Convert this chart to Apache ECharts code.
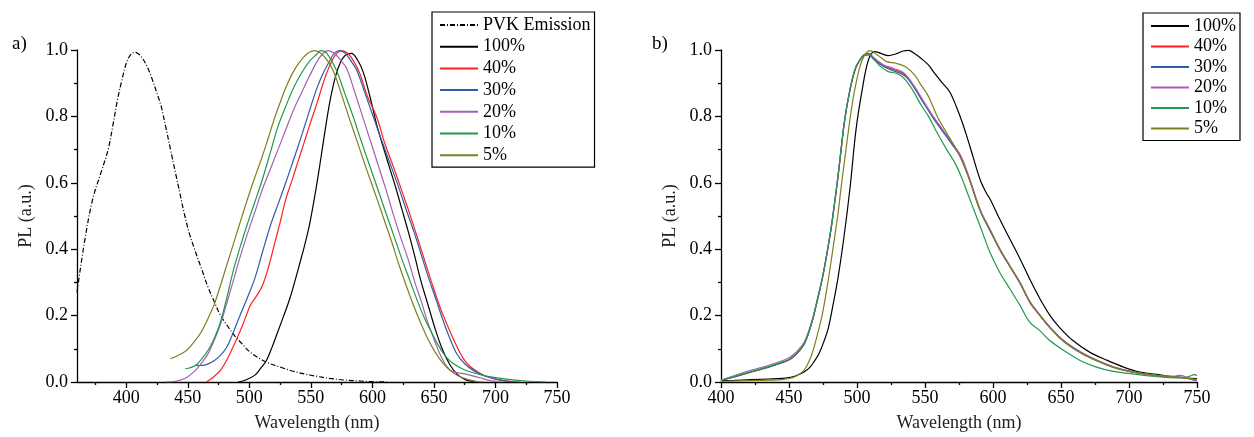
<!DOCTYPE html>
<html>
<head>
<meta charset="utf-8">
<script src="https://cdn.jsdelivr.net/npm/echarts@6/dist/echarts.min.js"></script>
<style>
  html, body { margin: 0; padding: 0; background: #fff; }
  #chart { width: 1254px; height: 437px; }
</style>
</head>
<body>
<div id="chart"></div>
<script>
// legend names + colours (same order in both panels)
var labels = ["100%", "40%", "30%", "20%", "10%", "5%"];
var colors = ["#000000", "#ff2020", "#2f5cab", "#a45fb8", "#1f9a48", "#7f7f1e"];

// x ticks of panel a (axis starts at 360)
var ticksA = [400, 450, 500, 550, 600, 650, 700, 750];
var minorA = [375, 425, 475, 525, 575, 625, 675, 725];

// panel a) PVK emission (dash-dot)
var pvkA = [[360,0.27],[366,0.42],[372.7,0.55],[380.3,0.64],[385.3,0.70],[389,0.77],[392.9,0.85],[396.5,0.91],[400.5,0.965],[403.5,0.985],[406.8,0.993],[410,0.988],[413.2,0.975],[417,0.95],[420.8,0.915],[424.5,0.875],[428.4,0.83],[432,0.77],[436,0.70],[440,0.63],[443.5,0.57],[447,0.51],[451.1,0.45],[456,0.395],[461.3,0.34],[466,0.29],[471.4,0.243],[476,0.205],[481.5,0.173],[488,0.14],[494.3,0.114],[500,0.092],[507.8,0.072],[515,0.058],[526.7,0.043],[535,0.033],[545,0.024],[555,0.017],[565,0.011],[577,0.006],[590,0.003],[600,0.001],[612,0]];

// panel a) blends
var a100 = [[491,0],[497,0.006],[504.3,0.02],[509,0.04],[513.8,0.064],[518.5,0.105],[523.3,0.153],[528,0.2],[532.8,0.25],[537.5,0.31],[542.3,0.375],[545.5,0.42],[548.7,0.47],[552,0.535],[555,0.6],[559,0.695],[562.5,0.78],[566,0.855],[570,0.92],[574,0.962],[578,0.984],[583,0.99],[588,0.97],[592.7,0.932],[598,0.86],[603.5,0.775],[609,0.705],[614,0.645],[619,0.585],[624,0.52],[629,0.455],[634,0.385],[639,0.31],[645,0.235],[651,0.16],[657,0.097],[663,0.052],[669,0.023],[675,0.008],[681,0.002],[686,0]];
var a40 = [[465,0],[470,0.012],[476.5,0.035],[481.5,0.065],[486.6,0.104],[491,0.14],[494.8,0.173],[498,0.205],[501.1,0.233],[506,0.26],[510.6,0.29],[515.5,0.345],[520.1,0.41],[525,0.48],[529.6,0.55],[534.5,0.605],[539.2,0.66],[544,0.715],[548.7,0.77],[555,0.84],[560,0.9],[565,0.95],[570,0.985],[575,0.998],[580,0.99],[585,0.965],[590,0.927],[596,0.86],[603.5,0.798],[610,0.72],[617,0.649],[624,0.575],[630.5,0.505],[637,0.43],[643,0.36],[649,0.29],[655,0.225],[661,0.17],[667,0.12],[673.6,0.072],[680,0.045],[687,0.027],[694,0.015],[702,0.007],[710,0.003],[720,0]];
var a30 = [[456,0.05],[460,0.05],[463.8,0.051],[467.5,0.056],[471.4,0.064],[476.5,0.08],[481.5,0.104],[486.5,0.145],[491.6,0.193],[498,0.25],[504.3,0.31],[510.6,0.39],[517,0.47],[523.3,0.535],[529.6,0.6],[536,0.67],[542.3,0.74],[548.7,0.815],[555,0.886],[560,0.93],[565,0.965],[569,0.99],[573.7,0.998],[578,0.99],[582,0.97],[587.2,0.94],[594,0.87],[600.8,0.798],[607.5,0.728],[614.3,0.659],[621,0.59],[627.5,0.519],[634,0.45],[640,0.38],[646,0.31],[652,0.245],[657,0.19],[662,0.14],[668.5,0.085],[675,0.055],[682,0.035],[689,0.022],[697,0.012],[706,0.004],[715,0]];
var a20 = [[432,0],[438,0.001],[443.5,0.005],[450,0.016],[456.2,0.035],[461,0.056],[466.3,0.084],[471.4,0.125],[476.5,0.173],[481.5,0.235],[486.6,0.3],[492,0.37],[497.9,0.44],[504.3,0.51],[510.6,0.58],[517,0.64],[523.3,0.7],[529.6,0.76],[536,0.82],[542.3,0.87],[548.7,0.92],[555,0.965],[559.5,0.988],[564,0.998],[569,0.99],[574,0.97],[579,0.945],[585.5,0.875],[592,0.8],[598.5,0.725],[605,0.65],[611,0.58],[617,0.505],[623,0.435],[629,0.37],[634.5,0.3],[640,0.24],[644.5,0.185],[649,0.14],[652.5,0.105],[656,0.075],[659,0.055],[662,0.04],[665,0.032],[669,0.028],[673,0.026],[680,0.02],[688,0.012],[695,0.005],[705,0]];
var a10 = [[448,0.04],[452,0.043],[456.2,0.05],[461,0.068],[466.3,0.094],[471.4,0.13],[476.5,0.18],[481.5,0.25],[486.6,0.33],[492,0.4],[497.9,0.47],[504.3,0.54],[510.6,0.61],[517,0.69],[523.3,0.77],[529.6,0.83],[536,0.886],[542.3,0.93],[548.7,0.965],[555,0.988],[558,0.998],[563,0.99],[571,0.937],[577.5,0.87],[584.5,0.798],[591,0.725],[598,0.649],[604.5,0.58],[611,0.509],[617.5,0.44],[624,0.37],[630,0.31],[636,0.25],[642,0.195],[648,0.15],[654,0.108],[660,0.075],[666,0.055],[673,0.04],[680,0.03],[690,0.02],[700,0.013],[712,0.007],[725,0.003],[741,0]];
var a5 = [[436,0.07],[442,0.08],[448.6,0.094],[455,0.12],[461.3,0.153],[466.3,0.19],[471.4,0.233],[476.5,0.29],[481.5,0.35],[486.6,0.41],[491.6,0.47],[496.3,0.525],[501.1,0.58],[505.8,0.63],[510.6,0.68],[515.4,0.735],[520.1,0.79],[524.9,0.84],[529.6,0.886],[534.4,0.925],[539.2,0.955],[544,0.978],[548.7,0.993],[553.4,0.998],[558,0.99],[563,0.97],[568.3,0.937],[575,0.865],[581.8,0.788],[588.5,0.715],[595.4,0.639],[602,0.57],[608.5,0.5],[615,0.43],[621,0.36],[627,0.295],[633,0.235],[639,0.18],[645,0.13],[651,0.09],[657,0.058],[663,0.035],[670,0.018],[677,0.008],[684,0.002],[690,0]];

// panel b)
var b100 = [[400,0.004],[410,0.005],[422,0.007],[435,0.009],[445,0.011],[452,0.015],[457,0.022],[461,0.03],[465.5,0.045],[469,0.065],[472,0.085],[475.5,0.12],[479,0.164],[482.5,0.235],[486,0.313],[490.3,0.433],[494.8,0.582],[499.3,0.761],[503.8,0.88],[508.4,0.97],[513,0.995],[517.5,0.99],[523,0.983],[528.5,0.988],[534,0.997],[538,0.999],[542,0.99],[547,0.975],[552.5,0.955],[557,0.93],[562.9,0.9],[568,0.875],[573,0.83],[578,0.775],[583,0.71],[590.5,0.61],[595,0.57],[598,0.55],[605,0.49],[612.5,0.43],[620,0.37],[627,0.31],[634.6,0.25],[642,0.2],[649,0.164],[659,0.124],[671,0.09],[684,0.065],[696,0.045],[708,0.03],[720,0.023],[735,0.015],[750,0.01]];
var b40 = [[400,0.005],[411,0.017],[422.6,0.03],[434,0.043],[445,0.058],[450,0.066],[454,0.078],[457.5,0.093],[461,0.112],[464.5,0.148],[467.7,0.192],[471,0.248],[474.5,0.311],[478,0.388],[481.3,0.47],[483.5,0.537],[485.8,0.61],[488,0.688],[490.3,0.769],[492.5,0.828],[494.8,0.878],[497,0.918],[499.3,0.948],[502,0.968],[505,0.983],[508.4,0.988],[512.9,0.973],[519.6,0.953],[526.4,0.942],[533,0.932],[537,0.918],[542.3,0.888],[549,0.843],[556,0.798],[563,0.758],[570,0.718],[576.5,0.678],[583,0.608],[590.5,0.518],[597.8,0.458],[605.2,0.398],[612.5,0.348],[619.9,0.298],[627.2,0.24],[634.6,0.2],[641.9,0.164],[651.7,0.124],[664,0.09],[676.2,0.065],[688.5,0.045],[700.8,0.032],[715.5,0.022],[730.2,0.016],[740,0.013],[750,0.005]];
var b30 = [[400,0.005],[411,0.017],[422.6,0.031],[434,0.044],[445,0.059],[450,0.067],[454,0.079],[457.5,0.094],[461,0.113],[464.5,0.149],[467.7,0.193],[471,0.249],[474.5,0.312],[478,0.389],[481.3,0.472],[483.5,0.539],[485.8,0.611],[488,0.689],[490.3,0.77],[492.5,0.829],[494.8,0.879],[497,0.919],[499.3,0.949],[502,0.969],[505,0.984],[508.4,0.985],[512.9,0.97],[519.6,0.95],[526.4,0.938],[533,0.928],[537,0.915],[542.3,0.885],[549,0.84],[556,0.795],[563,0.755],[570,0.715],[576.5,0.675],[583,0.605],[590.5,0.516],[597.8,0.456],[605.2,0.397],[612.5,0.347],[619.9,0.297],[627.2,0.24],[634.6,0.2],[641.9,0.163],[651.7,0.123],[664,0.089],[676.2,0.064],[688.5,0.044],[700.8,0.031],[715.5,0.021],[728,0.016],[735,0.015],[740,0.014],[744,0.01],[750,0.004]];
var b20 = [[400,0.006],[411,0.021],[422.6,0.036],[434,0.049],[445,0.064],[450,0.073],[454,0.085],[457.5,0.1],[461,0.119],[464.5,0.154],[467.7,0.197],[471,0.252],[474.5,0.314],[478,0.39],[481.3,0.473],[483.5,0.54],[485.8,0.612],[488,0.69],[490.3,0.771],[492.5,0.83],[494.8,0.88],[497,0.92],[499.3,0.95],[502,0.97],[505,0.985],[508.4,0.99],[512.9,0.975],[519.6,0.955],[526.4,0.945],[533,0.935],[537,0.92],[542.3,0.89],[549,0.845],[556,0.8],[563,0.76],[570,0.72],[576.5,0.68],[583,0.61],[590.5,0.52],[597.8,0.46],[605.2,0.4],[612.5,0.35],[619.9,0.3],[627.2,0.242],[634.6,0.202],[641.9,0.166],[651.7,0.126],[664,0.092],[676.2,0.066],[688.5,0.046],[700.8,0.033],[715.5,0.022],[728,0.017],[734,0.018],[738,0.02],[742,0.015],[746,0.008],[750,0.004]];
var b10 = [[400,0.005],[411,0.018],[422.6,0.032],[434,0.045],[445,0.06],[450,0.068],[454,0.08],[457.5,0.095],[461,0.114],[464.5,0.15],[467.7,0.194],[471,0.25],[474.5,0.313],[478,0.39],[481.3,0.473],[483.5,0.54],[485.8,0.612],[488,0.69],[490.3,0.771],[492.5,0.83],[494.8,0.88],[497,0.92],[499.3,0.95],[502,0.97],[505,0.985],[508.4,0.99],[512.9,0.97],[517.4,0.95],[523,0.935],[528.7,0.93],[533.2,0.92],[537.5,0.9],[542.3,0.87],[547,0.835],[552.6,0.8],[559,0.75],[566,0.7],[572,0.66],[576.5,0.62],[583,0.55],[590.5,0.47],[597.8,0.39],[605,0.33],[612.5,0.28],[620,0.23],[627,0.18],[634.6,0.154],[642,0.124],[652,0.095],[664,0.065],[676,0.045],[688.5,0.032],[701,0.025],[715,0.018],[730,0.013],[740,0.012],[745,0.018],[748,0.022],[750,0.02]];
var b5 = [[400,0.002],[420,0.004],[445,0.007],[452,0.012],[456.4,0.02],[461,0.035],[464.5,0.06],[467.7,0.095],[471,0.145],[474.5,0.204],[478,0.285],[481.3,0.373],[483.5,0.435],[485.8,0.5],[488,0.575],[490.3,0.65],[492.5,0.72],[494.8,0.79],[497,0.85],[499.3,0.9],[501.5,0.94],[503.8,0.97],[506.5,0.99],[509.5,0.998],[515,0.985],[521.9,0.965],[528.7,0.96],[535.4,0.95],[542.3,0.925],[547,0.895],[552.6,0.86],[559,0.8],[566,0.75],[571,0.715],[576.5,0.672],[583,0.606],[590.5,0.517],[597.8,0.457],[605.2,0.398],[612.5,0.348],[619.9,0.298],[627.2,0.24],[634.6,0.2],[641.9,0.164],[651.7,0.124],[664,0.09],[676.2,0.065],[688.5,0.045],[700.8,0.032],[715.5,0.022],[730.2,0.016],[750,0.008]];

var FONT = "Liberation Serif";
var chart = echarts.init(document.getElementById("chart"), null, { renderer: "canvas" });

var lineAxis = { show: true, lineStyle: { color: "#000", width: 1.3 } };
var tickStyle = { color: "#000", width: 1.3 };
var labelStyle = { fontFamily: FONT, fontSize: 18, color: "#000" };
var nameStyle = { fontFamily: FONT, fontSize: 18, color: "#222" };

function yAxis(gridIndex) {
  return {
    type: "value", gridIndex: gridIndex, min: 0, max: 1, interval: 0.2,
    name: "PL (a.u.)", nameLocation: "middle", nameGap: 42,
    nameTextStyle: nameStyle,
    axisLine: lineAxis,
    axisTick: { show: true, length: 6, lineStyle: tickStyle },
    minorTick: { show: true, splitNumber: 2, length: 3, lineStyle: tickStyle },
    axisLabel: Object.assign({ margin: 9, formatter: function (v) { return v.toFixed(1); } }, labelStyle),
    splitLine: { show: false }
  };
}

function line(name, data, color, xi, yi, dash) {
  return {
    name: name, type: "line", xAxisIndex: xi, yAxisIndex: yi, data: data,
    showSymbol: false, symbol: "none", smooth: 0.35,
    lineStyle: { color: color, width: 1.2, type: dash || "solid" },
    itemStyle: { color: color },
    silent: true, animation: false
  };
}

var seriesA = [a100, a40, a30, a20, a10, a5];
var seriesB = [b100, b40, b30, b20, b10, b5];
var series = [line("PVK Emission", pvkA, "#000", 0, 0, [5, 2, 1, 2])];
seriesA.forEach(function (d, i) { series.push(line(labels[i], d, colors[i], 0, 0)); });
seriesB.forEach(function (d, i) { series.push(line(labels[i], d, colors[i], 2, 1)); });

var legendText = { fontFamily: FONT, fontSize: 18, color: "#000" };
var noSymbol = { color: "rgba(0,0,0,0)", borderColor: "rgba(0,0,0,0)", borderWidth: 0, opacity: 0 };

chart.setOption({
  backgroundColor: "#fff",
  animation: false,
  grid: [
    { left: 77, right: 697, top: 50, bottom: 53 },
    { left: 721, right: 57, top: 50, bottom: 52 }
  ],
  xAxis: [
    {
      type: "value", gridIndex: 0, min: 360, max: 750,
      name: "Wavelength (nm)", nameLocation: "middle", nameGap: 32,
      nameTextStyle: nameStyle,
      axisLine: lineAxis,
      axisTick: { show: true, length: 6, lineStyle: tickStyle, customValues: ticksA },
      axisLabel: Object.assign({ margin: 7, customValues: ticksA }, labelStyle),
      splitLine: { show: false }
    },
    {
      type: "value", gridIndex: 0, min: 360, max: 750, position: "bottom",
      axisLine: { show: false },
      axisTick: { show: true, length: 3, lineStyle: tickStyle, customValues: minorA },
      axisLabel: { show: false },
      splitLine: { show: false }
    },
    {
      type: "value", gridIndex: 1, min: 400, max: 750, interval: 50,
      name: "Wavelength (nm)", nameLocation: "middle", nameGap: 32,
      nameTextStyle: nameStyle,
      axisLine: lineAxis,
      axisTick: { show: true, length: 6, lineStyle: tickStyle },
      minorTick: { show: true, splitNumber: 2, length: 3, lineStyle: tickStyle },
      axisLabel: Object.assign({ margin: 7 }, labelStyle),
      splitLine: { show: false }
    }
  ],
  yAxis: [yAxis(0), yAxis(1)],
  legend: [
    {
      data: ["PVK Emission"].concat(labels),
      orient: "vertical", left: 432, top: 12,
      itemWidth: 38, itemHeight: 14, itemGap: 3.7,
      padding: [4, 4, 3, 7],
      borderColor: "#000", borderWidth: 1.2, borderRadius: 0,
      itemStyle: noSymbol,
      textStyle: legendText, selectedMode: false
    },
    {
      data: labels,
      orient: "vertical", left: 1143, top: 13,
      itemWidth: 38, itemHeight: 14, itemGap: 2.5,
      padding: [4, 4, 3, 7],
      borderColor: "#000", borderWidth: 1.2, borderRadius: 0,
      itemStyle: noSymbol,
      textStyle: legendText, selectedMode: false
    }
  ],
  graphic: [
    { type: "text", left: 12, top: 35, style: { text: "a)", font: "19px " + FONT, fill: "#000" } },
    { type: "text", left: 652, top: 35, style: { text: "b)", font: "19px " + FONT, fill: "#000" } }
  ],
  series: series
});
</script>
</body>
</html>
